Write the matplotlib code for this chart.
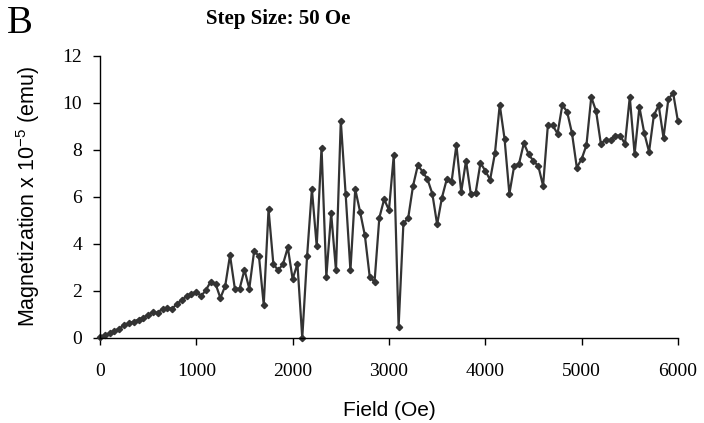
import numpy as np
import matplotlib
matplotlib.use("Agg")
import matplotlib.pyplot as plt

# field steps of 50 Oe, 0 .. 6000
field = np.arange(0, 6001, 50)

magnetization = [
    0.05, 0.12, 0.20, 0.30, 0.40, 0.55, 0.62, 0.70, 0.78, 0.87,
    0.98, 1.10, 1.07, 1.25, 1.28, 1.25, 1.45, 1.62, 1.78, 1.88,
    1.97, 1.78, 2.04, 2.40, 2.30, 1.70, 2.21, 3.52, 2.10, 2.10,
    2.90, 2.10, 3.68, 3.50, 1.41, 5.47, 3.14, 2.88, 3.14, 3.85,
    2.51, 3.15, 0.00, 3.47, 6.33, 3.90, 8.10, 2.61, 5.30, 2.87,
    9.24, 6.14, 2.87, 6.33, 5.37, 4.36, 2.61, 2.37, 5.11, 5.90,
    5.44, 7.78, 0.47, 4.87, 5.11, 6.47, 7.35, 7.07, 6.75, 6.14,
    4.83, 5.97, 6.75, 6.64, 8.21, 6.21, 7.54, 6.11, 6.18, 7.45,
    7.11, 6.73, 7.85, 9.92, 8.47, 6.13, 7.32, 7.41, 8.28, 7.82,
    7.52, 7.32, 6.47, 9.07, 9.04, 8.69, 9.92, 9.61, 8.71, 7.25,
    7.61, 8.20, 10.25, 9.65, 8.25, 8.44, 8.42, 8.61, 8.61, 8.25,
    10.25, 7.82, 9.82, 8.72, 7.92, 9.47, 9.90, 8.51, 10.15, 10.42,
    9.21,
]

x_ticks = [0, 1000, 2000, 3000, 4000, 5000, 6000]
y_ticks = [0, 2, 4, 6, 8, 10, 12]

plt.rcParams["mathtext.default"] = "regular"

fig = plt.figure(figsize=(7.04, 4.23), dpi=100)
ax = fig.add_axes([0.142, 0.201, 0.821, 0.667])

ax.plot(field, magnetization, color="#333333", linewidth=1.6,
        marker="D", markersize=3.2, clip_on=False)

ax.set_xlim(0, 6000)
ax.set_ylim(0, 12)
ax.set_xticks(x_ticks)
ax.set_yticks(y_ticks)

for side in ("top", "right"):
    ax.spines[side].set_visible(False)
for side in ("left", "bottom"):
    ax.spines[side].set_linewidth(1.0)

ax.tick_params(direction="out", length=5, width=1, labelsize=14)
ax.tick_params(axis="x", pad=13)
ax.tick_params(axis="y", pad=8)
for lbl in ax.get_xticklabels() + ax.get_yticklabels():
    lbl.set_family("Liberation Serif")

ax.set_xlabel("Field (Oe)", fontsize=15, family="Liberation Sans")
ax.xaxis.set_label_coords(0.5, -0.225)
ax.set_ylabel(r"Magnetization x 10$^{-5}$ (emu)", fontsize=15.5,
              family="Liberation Sans")
ax.yaxis.set_label_coords(-0.1, 0.5)

fig.text(0.395, 0.955, "Step Size: 50 Oe", ha="center", va="center",
         fontsize=15, fontweight="bold", family="Liberation Serif")
fig.text(0.01, 0.945, "B", ha="left", va="center", fontsize=28,
         family="Liberation Serif")

fig.savefig("out.png", dpi=100)
